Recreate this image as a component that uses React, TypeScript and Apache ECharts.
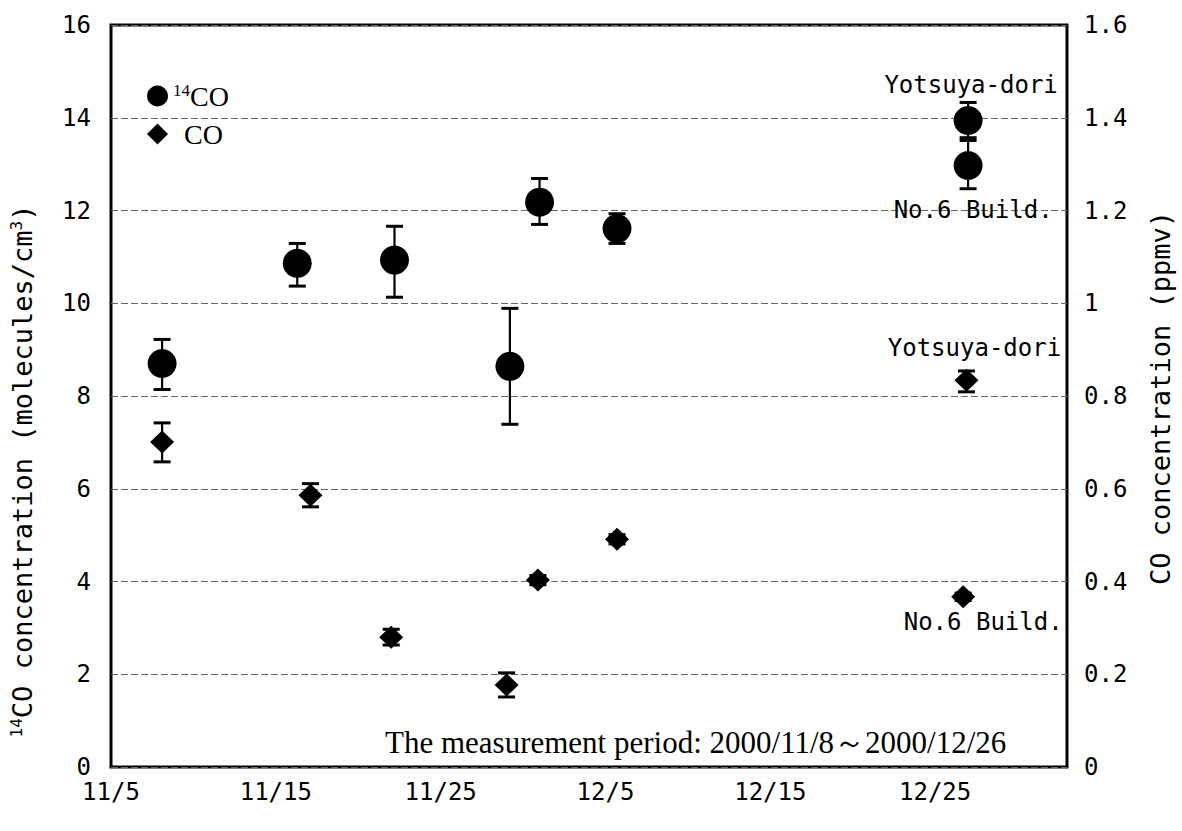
import React, { useEffect, useRef } from 'react';
import * as echarts from 'echarts';

// x values are day-of-year 2000 (11/5 = day 310)
const xTickLabels = ['11/5', '11/15', '11/25', '12/5', '12/15', '12/25'];

const dates14CO = [313.1, 321.3, 327.2, 334.2, 336.0, 340.7, 362.0, 362.0];
const val14CO = [8.7, 10.86, 10.93, 8.64, 12.18, 11.61, 13.94, 12.97];
const hi14CO = [9.22, 11.29, 11.66, 9.89, 12.69, 11.93, 14.33, 13.51];
const lo14CO = [8.14, 10.37, 10.13, 7.39, 11.7, 11.29, 13.57, 12.47];

const datesCO = [313.1, 322.1, 327.0, 334.0, 335.9, 340.7, 361.9, 361.7];
const valCO = [0.701, 0.586, 0.28, 0.177, 0.403, 0.491, 0.834, 0.367];
const hiCO = [0.742, 0.611, 0.297, 0.203, 0.413, 0.501, 0.854, 0.375];
const loCO = [0.658, 0.561, 0.263, 0.151, 0.393, 0.481, 0.809, 0.359];

const sites = ['', '', '', '', '', '', 'Yotsuya-dori', 'No.6 Build.'];

const MONO = '"DejaVu Sans Mono", monospace';
const SERIF = '"Liberation Serif", "Times New Roman", serif';

const labelPlace14CO: Record<string, any> = {
  'Yotsuya-dori': { position: 'top', distance: 9, offset: [3, 0] },
  'No.6 Build.': { position: 'bottom', distance: 18, offset: [5, 0] },
};
const labelPlaceCO: Record<string, any> = {
  'Yotsuya-dori': { position: 'top', distance: 9, offset: [8, 0] },
  'No.6 Build.': { position: 'bottom', distance: 2, offset: [20, 0] },
};

const errorBarItem = (params: any, api: any) => {
  const x = api.value(0);
  const top = api.coord([x, api.value(1)]);
  const bot = api.coord([x, api.value(2)]);
  const hw = 8.5;
  return {
    type: 'group',
    children: [
      { type: 'line', shape: { x1: top[0], y1: top[1], x2: bot[0], y2: bot[1] }, style: { stroke: '#000', lineWidth: 2.2 } },
      { type: 'line', shape: { x1: top[0] - hw, y1: top[1], x2: top[0] + hw, y2: top[1] }, style: { stroke: '#000', lineWidth: 3 } },
      { type: 'line', shape: { x1: bot[0] - hw, y1: bot[1], x2: bot[0] + hw, y2: bot[1] }, style: { stroke: '#000', lineWidth: 3 } },
    ],
  };
};

const makePoints = (dates: number[], vals: number[], place: Record<string, any>) =>
  dates.map((d, i) => {
    const s = sites[i];
    if (!s) return { value: [d, vals[i]] };
    return {
      value: [d, vals[i]],
      label: {
        show: true,
        formatter: s,
        fontFamily: MONO,
        fontSize: 24,
        color: '#000',
        ...place[s],
      },
    };
  });

export default function App() {
  const ref = useRef<HTMLDivElement>(null);
  useEffect(() => {
    if (!ref.current) return;
    const chart = echarts.init(ref.current, undefined, { renderer: 'svg' });
    const option: any = {
      animation: false,
      backgroundColor: '#fff',
      grid: { left: 111, right: 115, top: 25, bottom: 64, show: true, borderColor: '#000', borderWidth: 3, backgroundColor: 'transparent' },
      legend: {
        data: ['14CO', 'CO'],
        orient: 'vertical',
        left: 142,
        top: 77,
        itemWidth: 21,
        itemHeight: 21,
        itemGap: 10,
        formatter: (name: string) => (name === '14CO' ? '{s|14}{m|CO}' : '{p|CO}'),
        textStyle: {
          color: '#000',
          fontFamily: SERIF,
          fontSize: 28,
          rich: {
            s: { fontFamily: SERIF, fontSize: 17, verticalAlign: 'top', color: '#000' },
            m: { fontFamily: SERIF, fontSize: 28, color: '#000' },
            p: { fontFamily: SERIF, fontSize: 28, color: '#000', padding: [0, 0, 0, 11] },
          },
        },
      },
      xAxis: {
        type: 'value',
        min: 310,
        max: 368,
        interval: 10,
        axisLine: { show: false },
        axisTick: { show: false },
        splitLine: { show: false },
        axisLabel: {
          showMaxLabel: false,
          margin: 13,
          color: '#000',
          fontFamily: MONO,
          fontSize: 24,
          formatter: (v: number) => xTickLabels[Math.round((v - 310) / 10)] ?? '',
        },
      },
      yAxis: [
        {
          type: 'value',
          position: 'left',
          min: 0,
          max: 16,
          interval: 2,
          axisLine: { show: false },
          axisTick: { show: false },
          splitLine: { show: true, lineStyle: { color: '#666', width: 1, type: [7, 3] } },
          axisLabel: { margin: 20, color: '#000', fontFamily: MONO, fontSize: 24 },
        },
        {
          type: 'value',
          position: 'right',
          min: 0,
          max: 1.6,
          interval: 0.2,
          axisLine: { show: false },
          axisTick: { show: false },
          splitLine: { show: false },
          axisLabel: { margin: 17, color: '#000', fontFamily: MONO, fontSize: 24 },
        },
      ],
      series: [
        {
          type: 'custom',
          name: '14CO error',
          yAxisIndex: 0,
          renderItem: errorBarItem,
          encode: { x: 0, y: [1, 2] },
          data: dates14CO.map((d, i) => [d, hi14CO[i], lo14CO[i]]),
          z: 2,
        },
        {
          type: 'custom',
          name: 'CO error',
          yAxisIndex: 1,
          renderItem: errorBarItem,
          encode: { x: 0, y: [1, 2] },
          data: datesCO.map((d, i) => [d, hiCO[i], loCO[i]]),
          z: 2,
        },
        {
          type: 'scatter',
          name: '14CO',
          yAxisIndex: 0,
          symbol: 'circle',
          symbolSize: 29,
          itemStyle: { color: '#000', opacity: 1 },
          data: makePoints(dates14CO, val14CO, labelPlace14CO),
          z: 3,
        },
        {
          type: 'scatter',
          name: 'CO',
          yAxisIndex: 1,
          symbol: 'diamond',
          symbolSize: [24, 23],
          itemStyle: { color: '#000', opacity: 1 },
          data: makePoints(datesCO, valCO, labelPlaceCO),
          z: 3,
        },
      ],
      graphic: [
        {
          type: 'text',
          x: 22,
          y: 471,
          rotation: Math.PI / 2,
          style: {
            text: '{s|14}{m|CO concentration (molecules/cm}{s|3}{m|)}',
            align: 'center',
            verticalAlign: 'middle',
            fill: '#000',
            fontFamily: MONO,
            fontSize: 27,
            rich: {
              s: { fontFamily: MONO, fontSize: 16, verticalAlign: 'top', fill: '#000' },
              m: { fontFamily: MONO, fontSize: 27, fill: '#000' },
            },
          },
        },
        {
          type: 'text',
          x: 1160,
          y: 398,
          rotation: Math.PI / 2,
          style: {
            text: 'CO concentration (ppmv)',
            align: 'center',
            verticalAlign: 'middle',
            fill: '#000',
            fontFamily: MONO,
            fontSize: 27,
          },
        },
        {
          type: 'text',
          x: 385,
          y: 742,
          style: {
            text: 'The measurement period: 2000/11/8～2000/12/26',
            align: 'left',
            verticalAlign: 'middle',
            fill: '#000',
            fontFamily: SERIF,
            fontSize: 31,
          },
        },
      ],
    };
    chart.setOption(option);
    return () => chart.dispose();
  }, []);
  return <div ref={ref} style={{ position: 'fixed', left: 0, top: 0, width: 1182, height: 831 }} />;
}
